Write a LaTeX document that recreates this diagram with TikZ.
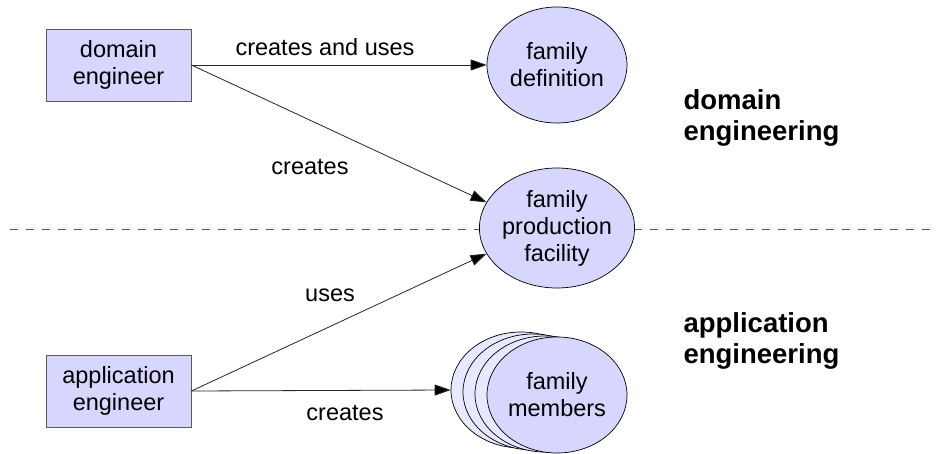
\documentclass[tikz,border=0pt]{standalone}
\usepackage{fontspec}
\setmainfont{Liberation Sans}
\usepackage{tikz}
\usetikzlibrary{shapes.geometric, arrows.meta, positioning, calc}
\definecolor{rolefill}{RGB}{214,214,255}
\definecolor{backfill}{RGB}{232,232,255}
\definecolor{rolegray}{RGB}{90,90,90}

\tikzset{
  role/.style={draw=rolegray, fill=rolefill, line width=0.8pt, minimum width=145pt, minimum height=72pt, align=center, font=\fontsize{23.5}{27.5}\selectfont},
  artifact/.style={ellipse, draw=black, fill=rolefill, line width=0.7pt, minimum width=140pt, minimum height=116pt, inner sep=0pt, align=center, font=\fontsize{23.5}{27}\selectfont},
  copyshape/.style={artifact, fill=backfill},
  flow/.style={draw=black!85, line width=0.8pt, -{Triangle[length=16pt,width=11pt,fill=black]}},
  lbl/.style={font=\fontsize{23.5}{27.5}\selectfont},
  part/.style={anchor=west, align=left, font=\fontsize{27.5}{31}\selectfont\bfseries},
}

\begin{document}
\begin{tikzpicture}[x=1pt, y=-1pt]
\useasboundingbox (0,0) rectangle (939,454);

% Border between the two parts
\coordinate (sepL) at (10,229);
\coordinate (sepR) at (937,229);
\draw[rolegray, line width=0.8pt, dash pattern=on 8pt off 8pt] (sepL) -- (sepR);

% Roles
\node[role] (dom) at (118.5,65) {domain\\engineer};
\node[role] (app) at (118.5,391) {application\\engineer};

% Artifacts
\node[artifact] (def) at (557,65) {family\\definition};
\node[artifact, minimum height=120pt] (fac) at (557,228) {family\\production\\facility};
\node[copyshape] (m3) at (521,390) {};
\node[copyshape] (m2) at (533,392) {};
\node[copyshape] (m1) at (545,394) {};
\node[artifact] (mem) at (557,395) {family\\members};

% Connectors
\draw[flow] (dom.east) -- (def.west);
\draw[flow] (dom.east) -- (fac.160);
\draw[flow] (app.east) -- (fac.200);
\draw[flow] (app.east) -- (m3.west);

% Labels
\node[lbl] (cu) at (325,47) {creates and uses};
\node[lbl] (cr1) at (310,167) {creates};
\node[lbl] (us) at (330,295) {uses};
\node[lbl] (cr2) at (345,413) {creates};

\node[part] (deng) at (680,118) {domain\\engineering};
\node[part] (aeng) at (680,341) {application\\engineering};
\end{tikzpicture}
\end{document}
